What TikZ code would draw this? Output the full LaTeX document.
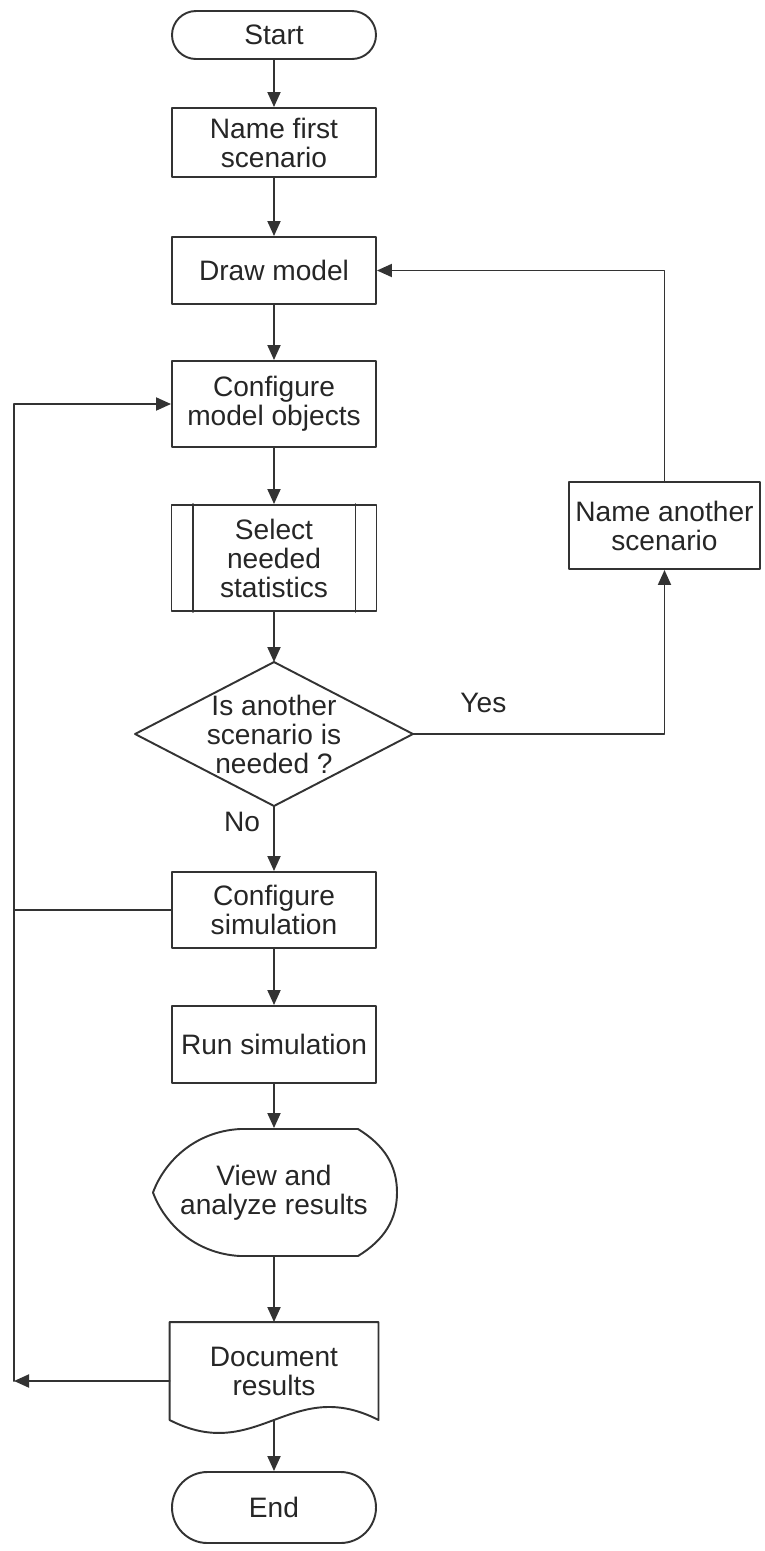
\documentclass[tikz,border=0pt]{standalone}
\usepackage{fontspec}
\setmainfont{Liberation Sans}
\usetikzlibrary{arrows.meta,calc}

\begin{document}
\begin{tikzpicture}[>={Triangle[length=0.3cm,width=0.26cm]}, font=\fontsize{16}{16.5}\selectfont, line join=round, line cap=round,
		wire/.style={draw=black!80, line width=1.1pt},
		flow/.style={wire, ->},
		proc/.style={wire, text=black!85, minimum width=4.08cm, align=center, inner sep=0pt},
		term/.style={proc}]
			\def\xc{5.48} \def\xl{0.28} % cột chính, đường trái
			\useasboundingbox (0,0) rectangle (15.3,-31.02);
			\node[term, rounded corners=0.48cm, minimum height=0.96cm] (start) at (\xc,-0.70) {Start};
			\node[proc, minimum height=1.38cm] (first) at (\xc,-2.85) {Name first\\scenario};
			\node[proc, minimum height=1.34cm] (model) at (\xc,-5.41) {Draw model};
			\node[proc, minimum height=1.72cm] (conf) at (\xc,-8.08) {Configure\\model objects};
			\node[proc, minimum width=4.1cm, minimum height=2.12cm] (stats) at (\xc,-11.16) {Select\\needed\\statistics};
			\node[proc, draw=none, minimum width=5.52cm, minimum height=2.84cm] (ask) at (\xc,-14.68) {Is another\\scenario is\\needed ?};
			\node[proc, minimum height=1.52cm] (csim) at (\xc,-18.2) {Configure\\simulation};
			\node[proc, minimum height=1.54cm] (run) at (\xc,-20.89) {Run simulation};
			\node[proc, draw=none, minimum width=4.88cm, minimum height=2.54cm] (view) at (\xc,-23.85) {View and\\analyze results};
			\node[proc, draw=none, minimum width=4.14cm, minimum height=1.92cm] (docs) at (\xc,-27.42) {Document\\results};
			\node[term, rounded corners=0.71cm, minimum height=1.42cm] (stop) at (\xc,-30.15) {End};
			\node[proc, minimum width=3.82cm, minimum height=1.74cm] (other) at (13.29,-10.51) {Name another\\scenario};
			\coordinate (lft) at (\xl,-8.08);
			%\draw[color=gray!50,dashed] (0,0) grid (15,-31);
			\draw[wire] ([xshift=0.44cm]stats.north west)--([xshift=0.44cm]stats.south west);
			\draw[wire] ([xshift=-0.44cm]stats.north east)--([xshift=-0.44cm]stats.south east);
			\draw[wire] (ask.north)--(ask.east)--(ask.south)--(ask.west)--cycle;
			\draw[wire, shift={(view.center)}] (-0.68,1.27)--(1.68,1.27) .. controls (2.2,0.95) and (2.46,0.55) .. (2.46,0) .. controls (2.46,-0.55) and (2.2,-0.95) .. (1.68,-1.27)--(-0.68,-1.27) .. controls (-1.6,-1.22) and (-2.2,-0.6) .. (-2.42,0) .. controls (-2.2,0.6) and (-1.6,1.22) .. (-0.68,1.27)--cycle;
			\draw[wire] (docs.south west)--(docs.north west)--(docs.north east)--(docs.south east) .. controls ($(docs.south east)+(-1.75,0.9)$) and ($(docs.south west)+(1.75,-0.9)$) .. (docs.south west);
			\draw[flow] (start.south)--(first.north);
			\draw[flow] (first.south)--(model.north);
			\draw[flow] (model.south)--(conf.north);
			\draw[flow] (conf.south)--(stats.north);
			\draw[flow] (stats.south)--(ask.north);
			\draw[flow] (ask.south)--(csim.north) node[pos=0.25, xshift=-0.64cm, text=black!85]{No};
			\draw[flow] (ask.east)-|(other.south) node[pos=0.14, yshift=0.62cm, text=black!85]{Yes};
			\draw[flow] (other.north)|-(model.east);
			\draw[flow] (csim.south)--(run.north);
			\draw[flow] (run.south)--(view.north);
			\draw[flow] (view.south)--(docs.north);
			\draw[flow] (docs.south)--(stop.north);
			\draw[flow] (csim.west)-|(lft)--(conf.west);
			\draw[flow] ([yshift=-0.2cm]docs.west)--([yshift=-0.2cm]docs.west -| lft);
			\draw[wire] (csim.west -| lft)--([yshift=-0.2cm]docs.west -| lft);
		\end{tikzpicture}
\end{document}
